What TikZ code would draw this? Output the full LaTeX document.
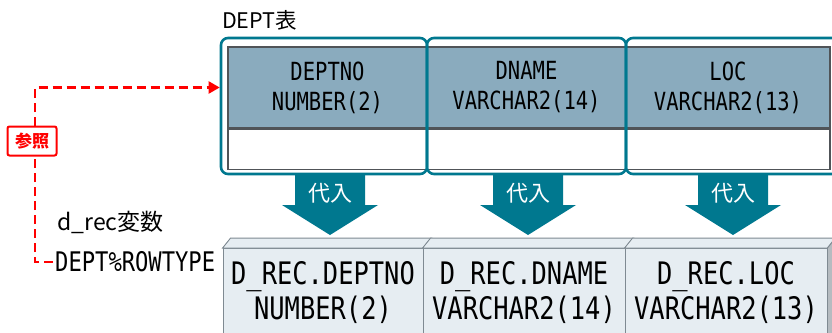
\documentclass[tikz,border=0pt]{standalone}
\usepackage{fontspec}
\newfontfamily\jpfont{Noto Sans CJK JP}
\newfontfamily\codefont[FakeStretch=0.82]{DejaVu Sans Mono}
\usetikzlibrary{arrows.meta,positioning,calc}

\definecolor{tealline}{HTML}{00788F}
\definecolor{headfill}{HTML}{8AABBE}
\definecolor{headline}{HTML}{505458}
\definecolor{recfill}{HTML}{E6EDF2}
\definecolor{recline}{HTML}{7F8A92}
\definecolor{sidefill}{HTML}{B5BBC0}
\definecolor{refred}{HTML}{FF0000}

\begin{document}
\begin{tikzpicture}[
    x=1pt, y=-1pt,
    font=\jpfont,
    headcell/.style={
        draw=headline,
        fill=headfill,
        line width=1.2pt,
        minimum height=81pt,
        inner sep=0pt,
        align=center,
        font=\codefont\fontsize{25}{30}\selectfont
    },
    blankcell/.style={
        draw=headline,
        fill=white,
        line width=1.2pt,
        minimum height=40pt,
        inner sep=0pt
    },
    colbox/.style={
        draw=tealline,
        line width=2.6pt,
        rounded corners=7pt,
        minimum height=136pt,
        inner sep=0pt
    },
    recbox/.style={
        draw=recline,
        fill=recfill,
        line width=0.9pt,
        minimum height=88pt,
        inner sep=0pt,
        align=center,
        font=\codefont\fontsize{31}{35}\selectfont
    },
    recface/.style={
        draw=recline,
        fill=recfill,
        line width=0.9pt
    },
    assignlabel/.style={
        text=white,
        inner sep=0pt,
        font=\jpfont\fontsize{22}{22}\selectfont
    },
    refline/.style={
        draw=refred,
        line width=2.2pt,
        dash pattern=on 9pt off 5pt,
        -{Triangle[length=11pt,width=12pt]}
    },
    refbox/.style={
        draw=refred,
        fill=white,
        line width=2pt,
        rounded corners=2pt,
        text=refred,
        minimum width=49pt,
        minimum height=29pt,
        inner sep=0pt,
        font=\jpfont\bfseries\fontsize{17}{17}\selectfont
    }
]

\clip (0,0) rectangle (832,332);
\fill[white] (0,0) rectangle (832,332);

% Table title
\node[anchor=west, inner sep=0pt, font=\jpfont\fontsize{21.5}{21.5}\selectfont] (title) at (222,20) {DEPT表};

% DEPT table columns
\node[headcell, minimum width=199pt] (head1) at (327.5,87.5) {DEPTNO\\NUMBER(2)};
\node[headcell, minimum width=199pt] (head2) at (526.5,87.5) {DNAME\\VARCHAR2(14)};
\node[headcell, minimum width=204pt] (head3) at (728,87.5) {LOC\\VARCHAR2(13)};

\node[blankcell, minimum width=199pt, below=0pt of head1] (row1) {};
\node[blankcell, minimum width=199pt, below=0pt of head2] (row2) {};
\node[blankcell, minimum width=204pt, below=0pt of head3] (row3) {};

\node[colbox, minimum width=206pt] (dept1) at (324,106) {};
\node[colbox, minimum width=199pt] (dept2) at (526.5,106) {};
\node[colbox, minimum width=214pt] (dept3) at (733,106) {};

% Assignment arrows
\coordinate (as1) at (330,193);
\coordinate (as2) at (528,193);
\coordinate (as3) at (733,193);
\foreach \n in {1,2,3}
    \fill[tealline] ($(as\n)+(-35,-20)$) -- ($(as\n)+(35,-20)$) -- ($(as\n)+(35,12)$)
        -- ($(as\n)+(48,12)$) -- ($(as\n)+(0,42)$) -- ($(as\n)+(-48,12)$)
        -- ($(as\n)+(-35,12)$) -- cycle;
\node[assignlabel] (aslabel1) at (as1) {代入};
\node[assignlabel] (aslabel2) at (as2) {代入};
\node[assignlabel] (aslabel3) at (as3) {代入};

% Record variable fields
\node[recbox, minimum width=200pt] (rec1) at (323,292.5) {D\_REC.DEPTNO\\NUMBER(2)};
\node[recbox, minimum width=202pt] (rec2) at (524,292.5) {D\_REC.DNAME\\VARCHAR2(14)};
\node[recbox, minimum width=202pt] (rec3) at (726,292.5) {D\_REC.LOC\\VARCHAR2(13)};

\foreach \n in {1,2,3}
    \filldraw[recface] (rec\n.north west) -- ++(8,-10) -- ($(rec\n.north east)+(8,-10)$)
        -- (rec\n.north east) -- cycle;
\filldraw[recface, fill=sidefill] (rec3.north east) -- ++(8,-10) -- ++(0,110)
    -- ($(rec3.south east)+(0,20)$) -- cycle;

% Variable declaration
\node[anchor=west, inner sep=0pt, font=\jpfont\fontsize{23}{23}\selectfont] (recname) at (57,222) {d\_rec変数};
\node[anchor=west, inner sep=2pt, font=\codefont\fontsize{27}{27}\selectfont] (rowtype) at (53,262) {DEPT\%ROWTYPE};

% Reference
\coordinate (refcorner) at (35,87.5);
\draw[refline] (rowtype.west) -| (refcorner) -- (dept1.west |- head1.center);
\node[refbox] (ref) at (32,141) {参照};

\end{tikzpicture}
\end{document}
